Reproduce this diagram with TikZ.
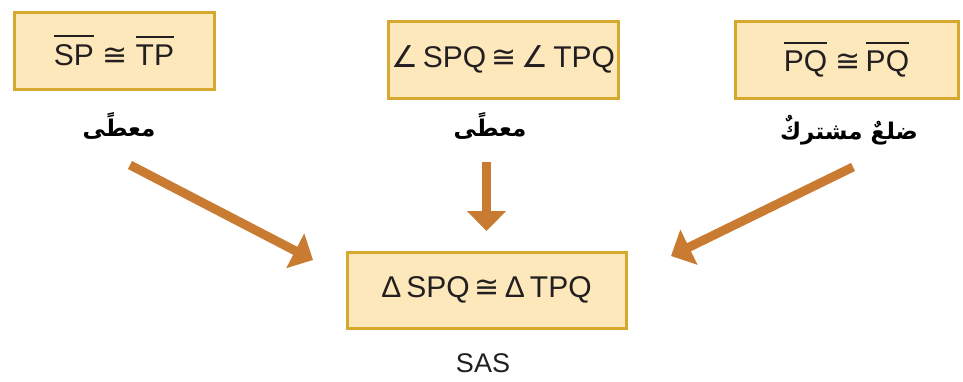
\documentclass[tikz,border=0pt]{standalone}
\usepackage{fontspec}
\setmainfont{Liberation Sans}
\newfontfamily\arabicfont[Script=Arabic]{DejaVu Sans}
\newfontfamily\symfont{DejaVu Sans}
\TeXXeTstate=1
\usetikzlibrary{arrows.meta}
\definecolor{boxfill}{HTML}{FDE8BB}
\definecolor{boxline}{HTML}{D6A82E}
\definecolor{arrowc}{HTML}{C97B31}
\definecolor{txt}{HTML}{231F20}
\newcommand{\segbar}[1]{\leavevmode\vbox{\hrule height 2pt\kern 7pt\hbox{#1}}}
\newcommand{\cng}{{\symfont ≅}}
\newcommand{\ang}{{\symfont ∠}}
\begin{document}
\begin{tikzpicture}[x=1pt,y=-1pt,
  stmt/.style={draw=boxline,line width=3pt,fill=boxfill,text=txt,
    minimum height=77pt,inner sep=0pt,font=\fontsize{30}{34}\selectfont},
  arlabel/.style={text=black,font=\arabicfont\bfseries\fontsize{23}{28}\selectfont,inner sep=0pt},
  conn/.style={draw=arrowc,line width=9pt,-{Triangle[width=38pt,length=20pt]}}]
\useasboundingbox (0,0) rectangle (963,381);
\node[stmt,minimum width=200pt] (b1) at (114,50.5) {\segbar{SP} \cng\ \segbar{TP}};
\node[stmt,minimum width=230pt] (b2) at (503,59.5) {\ang\,SPQ\,\cng\,\ang\,TPQ};
\node[stmt,minimum width=223pt] (b3) at (846.5,59.5) {\segbar{PQ} \cng\,\segbar{PQ}};
\node[stmt,minimum width=279pt,minimum height=76pt] (b4) at (486.5,290) {Δ\,SPQ\,\cng\,Δ\,TPQ};
\node[arlabel] (l1) at (119,126) {\beginR معطًى\endR};
\node[arlabel] (l2) at (490,126) {\beginR معطًى\endR};
\node[arlabel] (l3) at (849,130) {\beginR ضلعٌ مشتركٌ\endR};
\node[text=txt,font=\fontsize{27}{30}\selectfont,inner sep=0pt] (sas) at (483,363) {SAS};
\coordinate (s1) at (130,165);
\coordinate (e1) at (313,260);
\coordinate (s2) at (486.5,162);
\coordinate (e2) at (486.5,231);
\coordinate (s3) at (853,167);
\coordinate (e3) at (671,256);
\draw[conn] (s1) -- (e1);
\draw[conn] (s2) -- (e2);
\draw[conn] (s3) -- (e3);
\end{tikzpicture}
\end{document}
